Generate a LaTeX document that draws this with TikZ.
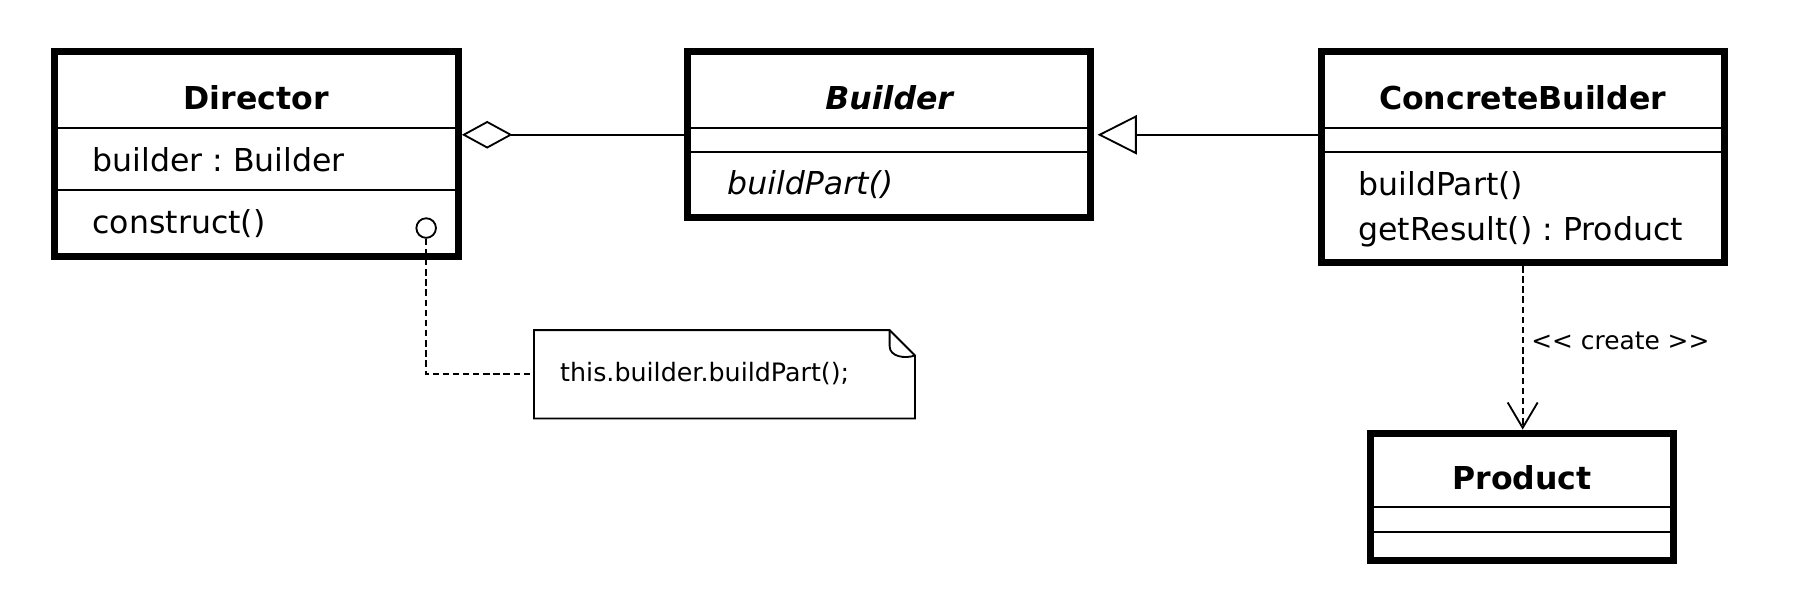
\documentclass[tikz,border=0pt]{standalone}
\usepackage{fontspec}
\setmainfont{DejaVu Sans}
\usetikzlibrary{arrows.meta,positioning,calc}
\tikzset{umlclass/.style={draw, line width=3pt, rectangle, inner sep=0pt}}
\tikzset{sep/.style={draw, line width=0.8pt}}
\tikzset{title/.style={anchor=base, inner sep=0pt, font=\fontsize{13.7}{16}\selectfont\bfseries}}
\tikzset{member/.style={anchor=base west, inner sep=0pt, font=\fontsize{13.7}{16}\selectfont}}
\tikzset{line/.style={draw, line width=0.8pt}}
\tikzset{dep/.style={line, dash pattern=on 2.8pt off 1.6pt}}
\frenchspacing

\begin{document}
\begin{tikzpicture}[x=0.5pt,y=-0.5pt]
				\useasboundingbox (0,0) rectangle (1568,514);
				\node [umlclass, minimum width=175.5pt, minimum height=89pt]    (director)  at (222.5,134)  {};
				\node [umlclass, minimum width=175pt, minimum height=72pt]      (builder)   at (772,117)    {};
				\node [umlclass, minimum width=175pt, minimum height=91.5pt]    (concrete)  at (1322,136.5) {};
				\node [umlclass, minimum width=131.5pt, minimum height=55.5pt]  (product)   at (1321.5,431.5) {};
				%
				\path [sep] (director.west |- 0,111) -- (director.east |- 0,111);
				\path [sep] (director.west |- 0,165) -- (director.east |- 0,165);
				\path [sep] (builder.west |- 0,111)  -- (builder.east |- 0,111);
				\path [sep] (builder.west |- 0,132)  -- (builder.east |- 0,132);
				\path [sep] (concrete.west |- 0,111) -- (concrete.east |- 0,111);
				\path [sep] (concrete.west |- 0,132) -- (concrete.east |- 0,132);
				\path [sep] (product.west |- 0,440)  -- (product.east |- 0,440);
				\path [sep] (product.west |- 0,462)  -- (product.east |- 0,462);
				%
				\node [title]                       (directorT)  at (222.5,95)  {Director};
				\node [member]                      (builderA)   at (80,149)    {builder : Builder};
				\node [member]                      (construct)  at (80,203)    {construct()};
				\node [title, font=\fontsize{13.7}{16}\selectfont\bfseries\itshape] (builderT) at (772,95) {Builder};
				\node [member, font=\fontsize{13.7}{16}\selectfont\itshape] (buildA) at (631,169) {buildPart()};
				\node [title]                       (concreteT)  at (1322,95)   {ConcreteBuilder};
				\node [member]                      (buildB)     at (1179,170)  {buildPart()};
				\node [member]                      (getResult)  at (1179,209)  {getResult() : Product};
				\node [title]                       (productT)   at (1321.5,425) {Product};
				%
				\node [circle, draw, line width=0.8pt, inner sep=0pt, minimum size=8.5pt] (port) at (370,198) {};
				\node [minimum width=165pt, minimum height=38pt, inner sep=0pt] (note) at (629,325) {};
				\node [anchor=base west, inner sep=0pt, font=\fontsize{11}{13}\selectfont] (noteT) at (486,331) {this.builder.buildPart();};
				\path [line] (note.north west) -- ([xshift=-11pt]note.north east) -- ([yshift=-11pt]note.north east)
				             -- (note.south east) -- (note.south west) -- cycle;
				\path [line] ([xshift=-11pt]note.north east) -- ([xshift=-11pt,yshift=-7pt]note.north east)
				             to[out=-90,in=200] ([yshift=-11pt]note.north east);
				%
				\path [line, -{Diamond[open, length=22pt, width=12pt]}] (builder.west) -- (director.east |- builder.west);
				\path [line, -{Triangle[open, length=17pt, width=17pt]}] (concrete.west |- builder.east) -- ([xshift=1.5pt]builder.east);
				\path [dep, -{Straight Barb[length=11pt, width=13pt, line width=0.8pt]}] (concrete.south) -- (concrete.south |- product.north)
				      node [midway, right, xshift=0pt, yshift=3pt, font=\fontsize{10.8}{13}\selectfont] (create) {<{}< create >{}>};
				\path [dep] (port.south) |- (note.west);
\end{tikzpicture}
\end{document}
